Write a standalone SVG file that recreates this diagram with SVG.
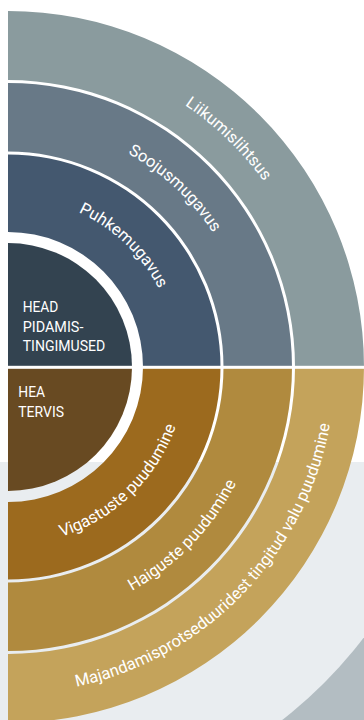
<svg xmlns="http://www.w3.org/2000/svg" width="364" height="720" viewBox="0 0 364 720">
  <style>
    .lbl { fill: #ffffff; font-family: Roboto, "Liberation Sans", sans-serif; font-size: 15.5px; }
    .arc { fill: #ffffff; font-family: Roboto, "Liberation Sans", sans-serif; font-size: 16.5px; }
  </style>
  <defs>
    <clipPath id="lowBand"><rect x="0" y="462" width="364" height="258"/></clipPath>
    <path id="pLiik" d="M 8,51 A 316 316 0 0 1 324,367"/>
    <path id="pSooj" d="M 8,122 A 245 245 0 0 1 253,367"/>
    <path id="pPuhk" d="M 8,197 A 170 170 0 0 1 178,367"/>
    <path id="pViga" d="M 8,545 A 178 178 0 0 0 186,367"/>
    <path id="pHaig" d="M 8,623 A 256 256 0 0 0 264,367"/>
    <path id="pMaja" d="M 8,694 A 327 327 0 0 0 335,367"/>
  </defs>

  <g id="background">
    <rect x="0" y="0" width="364" height="720" fill="#ffffff"/>
    <rect x="0" y="462" width="364" height="258" fill="#b3bdc2"/>
    <circle cx="8" cy="367" r="447" fill="#e9edf0" clip-path="url(#lowBand)"/>
  </g>

  <g id="liikumislihtsus">
    <path d="M 8,11 A 356 356 0 0 1 364,367 L 295,367 A 287 287 0 0 0 8,80 Z" fill="#8a9b9e"/>
    <text class="arc"><textPath href="#pLiik" startOffset="242.7" text-anchor="middle">Liikumislihtsus</textPath></text>
  </g>
  <g id="soojusmugavus">
    <path d="M 8,83 A 284 284 0 0 1 292,367 L 223.5,367 A 215.5 215.5 0 0 0 8,151.5 Z" fill="#687987"/>
    <text class="arc"><textPath href="#pSooj" startOffset="183.9" text-anchor="middle">Soojusmugavus</textPath></text>
  </g>
  <g id="puhkemugavus">
    <path d="M 8,154.5 A 212.5 212.5 0 0 1 220.5,367 L 143,367 A 135 135 0 0 0 8,232 Z" fill="#44586f"/>
    <text class="arc"><textPath href="#pPuhk" startOffset="129.1" text-anchor="middle">Puhkemugavus</textPath></text>
  </g>
  <g id="head-pidamistingimused">
    <path d="M 8,243 A 124 124 0 0 1 132,367 L 8,367 Z" fill="#334350"/>
    <text class="lbl" x="22.7" y="311.7" textLength="35.7" lengthAdjust="spacingAndGlyphs">HEAD</text>
    <text class="lbl" x="22.7" y="331.5" textLength="60.7" lengthAdjust="spacingAndGlyphs">PIDAMIS-</text>
    <text class="lbl" x="22.7" y="351" textLength="82.6" lengthAdjust="spacingAndGlyphs">TINGIMUSED</text>
  </g>

  <g id="hea-tervis">
    <path d="M 132,367 A 124 124 0 0 1 8,491 L 8,367 Z" fill="#684a22"/>
    <text class="lbl" x="18.3" y="397" textLength="26.7" lengthAdjust="spacingAndGlyphs">HEA</text>
    <text class="lbl" x="18.3" y="417" textLength="45.7" lengthAdjust="spacingAndGlyphs">TERVIS</text>
  </g>
  <g id="vigastuste-puudumine">
    <path d="M 220.5,367 A 212.5 212.5 0 0 1 8,579.5 L 8,502 A 135 135 0 0 0 143,367 Z" fill="#9c6a1e"/>
    <text class="arc"><textPath href="#pViga" startOffset="136.7" text-anchor="middle">Vigastuste puudumine</textPath></text>
  </g>
  <g id="haiguste-puudumine">
    <path d="M 292,367 A 284 284 0 0 1 8,651 L 8,582.5 A 215.5 215.5 0 0 0 223.5,367 Z" fill="#b08a3e"/>
    <text class="arc"><textPath href="#pHaig" startOffset="205.5" text-anchor="middle">Haiguste puudumine</textPath></text>
  </g>
  <g id="valu-puudumine">
    <path d="M 364,367 A 356 356 0 0 1 8,723 L 8,654 A 287 287 0 0 0 295,367 Z" fill="#c4a35b"/>
    <text class="arc"><textPath href="#pMaja" startOffset="262.5" text-anchor="middle">Majandamisprotseduuridest tingitud valu puudumine</textPath></text>
  </g>

  <g id="divider">
    <rect x="8" y="365.8" width="356" height="3" fill="#ffffff"/>
  </g>
</svg>
